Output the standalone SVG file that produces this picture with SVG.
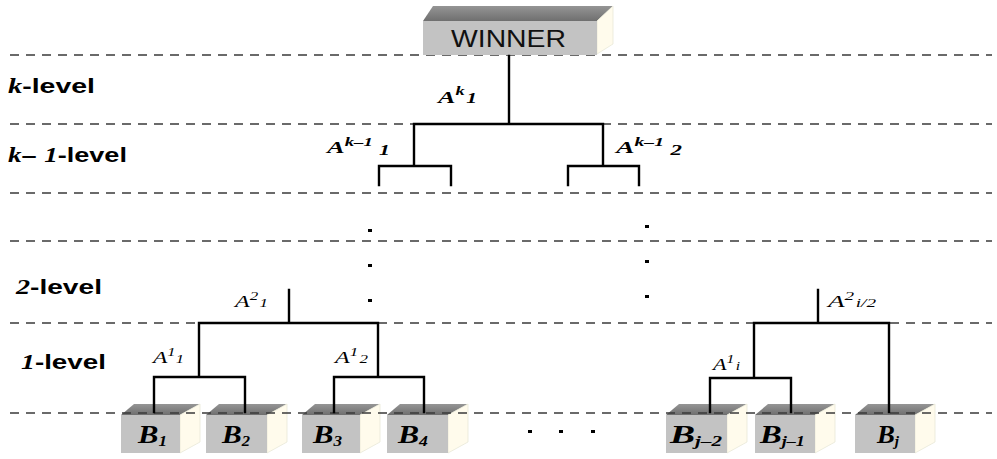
<svg xmlns="http://www.w3.org/2000/svg" width="997" height="459" viewBox="0 0 997 459">
<style>
.dash{stroke:#3a3a3a;stroke-width:1.6;stroke-dasharray:9 7;fill:none}
.ln{stroke:#000;stroke-width:2.4;fill:none;stroke-linecap:square}
.front{fill:#c3c3c3}
.top{fill:url(#topg)}
.side{fill:#fffbec;stroke:#e8e8d8;stroke-width:0.8}
.lvl{font-family:"Liberation Sans",Arial,sans-serif;font-weight:bold;font-size:20px;fill:#000}
.it{font-family:"Liberation Serif","Times New Roman",serif;font-style:italic;font-weight:bold}
.A{font-family:"Liberation Serif","Times New Roman",serif;font-style:italic;font-size:17px;fill:#000}
.Ab{font-weight:bold}
.sm{font-size:12px}
.sb{font-size:14px}
.B{font-family:"Liberation Serif","Times New Roman",serif;font-style:italic;font-weight:bold;font-size:25px;fill:#000}
.dot{fill:#000}
</style>
<defs>
<linearGradient id="topg" x1="0" y1="0" x2="0" y2="1">
<stop offset="0" stop-color="#959595"/>
<stop offset="1" stop-color="#6f6f6f"/>
</linearGradient>
</defs>
<rect width="997" height="459" fill="#fff"/>

<g id="levels">
<line class="dash" x1="10" y1="55" x2="992" y2="55"/>
<line class="dash" x1="10" y1="124" x2="992" y2="124"/>
<line class="dash" x1="10" y1="193" x2="992" y2="193"/>
<line class="dash" x1="10" y1="241" x2="992" y2="241"/>
<line class="dash" x1="10" y1="323" x2="992" y2="323"/>
<text class="lvl" x="8" y="93" textLength="87" lengthAdjust="spacingAndGlyphs"><tspan class="it">k</tspan>-level</text>
<text class="lvl" x="8" y="162" textLength="119" lengthAdjust="spacingAndGlyphs"><tspan class="it">k</tspan>– <tspan class="it">1</tspan>-level</text>
<text class="lvl" x="16" y="294" textLength="86" lengthAdjust="spacingAndGlyphs"><tspan class="it">2</tspan>-level</text>
<text class="lvl" x="21" y="369" textLength="85" lengthAdjust="spacingAndGlyphs"><tspan class="it">1</tspan>-level</text>
</g>

<g id="winner">
<polygon class="top" points="423,21 597,21 613,6 433,6"/>
<polygon class="side" points="597,21 613,6 613,44 597,54"/>
<rect class="front" x="423" y="21" width="174" height="34"/>
<text x="451" y="47" font-family="Liberation Sans,Arial,sans-serif" font-size="23" textLength="115" lengthAdjust="spacingAndGlyphs" fill="#111">WINNER</text>
</g>

<g id="B1">
<polygon class="top" points="121,415 180,415 200,404 134,404"/>
<polygon class="side" points="180,415 200,404 200,442 180,453"/>
<rect class="front" x="121" y="415" width="59" height="38"/>
<text class="B" x="138" y="443" textLength="29" lengthAdjust="spacingAndGlyphs">B<tspan class="sb" dy="3">1</tspan></text>
</g>
<g id="B2">
<polygon class="top" points="206,415 267,415 287,404 219,404"/>
<polygon class="side" points="267,415 287,404 287,442 267,453"/>
<rect class="front" x="206" y="415" width="61" height="38"/>
<text class="B" x="222" y="443" textLength="28" lengthAdjust="spacingAndGlyphs">B<tspan class="sb" dy="3">2</tspan></text>
</g>
<g id="B3">
<polygon class="top" points="302,415 360,415 380,404 315,404"/>
<polygon class="side" points="360,415 380,404 380,442 360,453"/>
<rect class="front" x="302" y="415" width="58" height="38"/>
<text class="B" x="313" y="443" textLength="29" lengthAdjust="spacingAndGlyphs">B<tspan class="sb" dy="3">3</tspan></text>
</g>
<g id="B4">
<polygon class="top" points="387,415 448,415 468,404 400,404"/>
<polygon class="side" points="448,415 468,404 468,442 448,453"/>
<rect class="front" x="387" y="415" width="61" height="38"/>
<text class="B" x="398" y="443" textLength="30" lengthAdjust="spacingAndGlyphs">B<tspan class="sb" dy="3">4</tspan></text>
</g>
<g id="Bj-2">
<polygon class="top" points="666,415 727,415 747,404 679,404"/>
<polygon class="side" points="727,415 747,404 747,442 727,453"/>
<rect class="front" x="666" y="415" width="61" height="38"/>
<text class="B" x="670" y="443" textLength="52" lengthAdjust="spacingAndGlyphs">B<tspan class="sb" dy="3">j–2</tspan></text>
</g>
<g id="Bj-1">
<polygon class="top" points="755,415 815,415 835,404 768,404"/>
<polygon class="side" points="815,415 835,404 835,442 815,453"/>
<rect class="front" x="755" y="415" width="60" height="38"/>
<text class="B" x="760" y="443" textLength="45" lengthAdjust="spacingAndGlyphs">B<tspan class="sb" dy="3">j–1</tspan></text>
</g>
<g id="Bj">
<polygon class="top" points="855,415 915,415 935,404 868,404"/>
<polygon class="side" points="915,415 935,404 935,442 915,453"/>
<rect class="front" x="855" y="415" width="60" height="38"/>
<text class="B" x="877" y="443" textLength="22" lengthAdjust="spacingAndGlyphs">B<tspan class="sb" dy="3">j</tspan></text>
</g>

<line class="dash" x1="10" y1="413" x2="992" y2="413"/>

<g id="connectors">
<path class="ln" d="M509,56 V124 M414,124 H603 M414,124 V166 M603,124 V166 M379,166 H451 M379,166 V185 M451,166 V185 M568,166 H639 M568,166 V185 M639,166 V185"/>
<path class="ln" d="M289,290 V323 M199,323 H378 M199,323 V377 M378,323 V377 M154,377 H245 M154,377 V412 M245,377 V412 M334,377 H424 M334,377 V412 M424,377 V412"/>
<path class="ln" d="M818,290 V323 M754,323 H889 M754,323 V378 M889,323 V412 M710,378 H791 M710,378 V412 M791,378 V412"/>
</g>

<g id="labels">
<text class="A Ab" x="438" y="103" textLength="39" lengthAdjust="spacingAndGlyphs">A<tspan class="sm" dy="-8">k</tspan><tspan class="sb" dy="8" dx="1">1</tspan></text>
<text class="A Ab" x="327" y="153" textLength="63" lengthAdjust="spacingAndGlyphs">A<tspan class="sm" dy="-7">k–1</tspan><tspan class="sb" dy="9" dx="4">1</tspan></text>
<text class="A Ab" x="616" y="153" textLength="66" lengthAdjust="spacingAndGlyphs">A<tspan class="sm" dy="-7">k–1</tspan><tspan class="sb" dy="9" dx="4">2</tspan></text>
<text class="A" x="235" y="307" textLength="33" lengthAdjust="spacingAndGlyphs">A<tspan class="sm" dy="-7">2</tspan><tspan class="sm" dy="7" dx="1">1</tspan></text>
<text class="A" x="153" y="363" textLength="31" lengthAdjust="spacingAndGlyphs">A<tspan class="sm" dy="-7">1</tspan><tspan class="sm" dy="7" dx="1">1</tspan></text>
<text class="A" x="335" y="363" textLength="33" lengthAdjust="spacingAndGlyphs">A<tspan class="sm" dy="-7">1</tspan><tspan class="sm" dy="7" dx="1">2</tspan></text>
<text class="A" x="828" y="307" textLength="48" lengthAdjust="spacingAndGlyphs">A<tspan class="sm" dy="-7">2</tspan><tspan class="sm" dy="7" dx="1">i/2</tspan></text>
<text class="A" x="713" y="370" textLength="27" lengthAdjust="spacingAndGlyphs">A<tspan class="sm" dy="-7">1</tspan><tspan class="sm" dy="7" dx="1">i</tspan></text>
</g>

<g id="dots">
<rect class="dot" x="368" y="229" width="4" height="3"/>
<rect class="dot" x="368" y="264" width="4" height="3"/>
<rect class="dot" x="368" y="299" width="4" height="3"/>
<rect class="dot" x="645" y="225" width="4" height="3"/>
<rect class="dot" x="645" y="260" width="4" height="3"/>
<rect class="dot" x="645" y="295" width="4" height="3"/>
<rect class="dot" x="528" y="430" width="4" height="3"/>
<rect class="dot" x="559" y="430" width="4" height="3"/>
<rect class="dot" x="591" y="430" width="4" height="3"/>
</g>
</svg>
